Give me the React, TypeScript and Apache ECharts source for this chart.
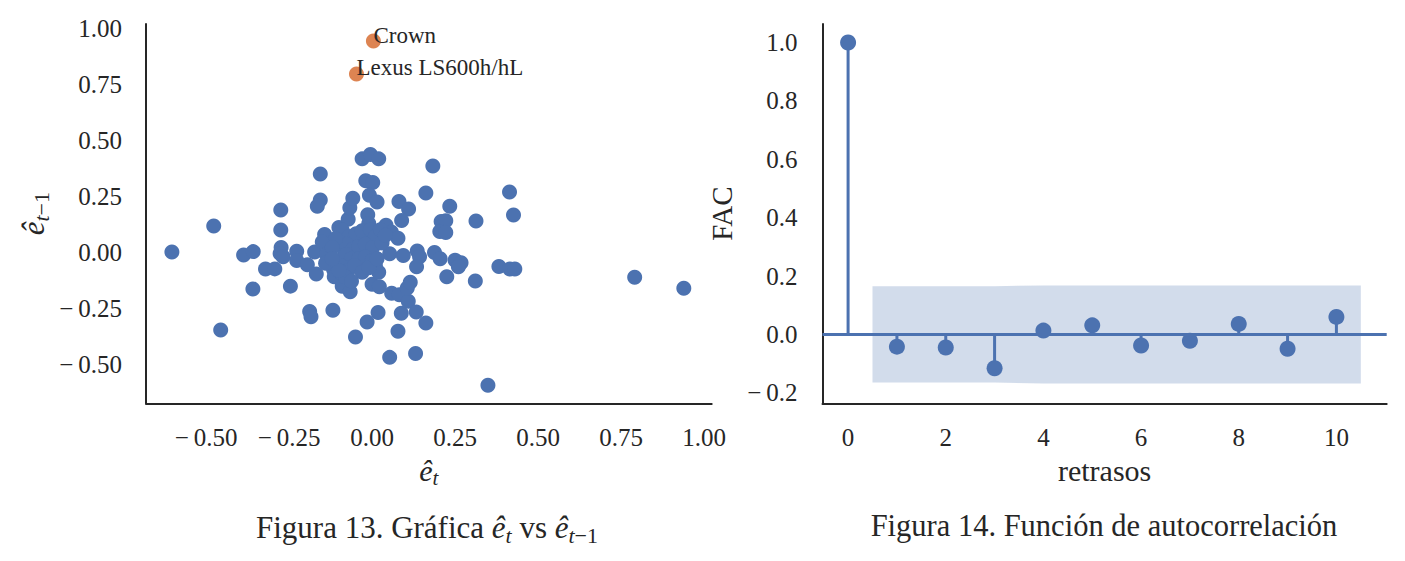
import React, { useEffect, useRef } from 'react';
import * as echarts from 'echarts';

// ---------- data ----------
// residual pairs (e_t, e_{t-1})
const residualPairs: [number, number][] = [
  [-0.603, 0.0], [-0.477, 0.116], [-0.456, -0.348], [-0.387, -0.013], [-0.358, 0.002],
  [-0.359, -0.165], [-0.321, -0.076], [-0.293, -0.075], [-0.275, 0.188], [-0.275, 0.099],
  [-0.274, 0.02], [-0.277, -0.006], [-0.268, -0.021], [-0.246, -0.152], [-0.227, 0.004],
  [-0.227, -0.038], [-0.188, -0.265], [-0.184, -0.289], [-0.195, -0.057], [-0.168, -0.098],
  [-0.173, 0.0], [-0.156, 0.348], [-0.156, 0.232], [-0.165, 0.205], [-0.143, 0.078],
  [-0.15, 0.045], [-0.137, -0.01], [-0.118, -0.26], [-0.116, -0.078], [-0.114, -0.11],
  [-0.1, 0.11], [-0.088, -0.104], [-0.09, -0.153], [-0.066, -0.177], [-0.072, 0.146],
  [-0.067, 0.198], [-0.058, 0.24], [-0.086, 0.024], [-0.083, -0.008], [-0.05, -0.379],
  [-0.058, 0.072], [-0.044, 0.008], [-0.044, -0.048], [-0.03, 0.416], [-0.005, 0.435],
  [0.02, 0.416], [-0.019, 0.318], [0.002, 0.311], [-0.008, 0.254], [0.015, 0.223],
  [-0.013, 0.167], [-0.01, 0.128], [-0.017, 0.088], [-0.03, 0.04], [-0.006, 0.024],
  [-0.006, -0.016], [-0.015, -0.312], [0.018, -0.27], [0.0, -0.144], [0.022, -0.155],
  [0.01, -0.06], [0.02, -0.09], [0.042, 0.12], [0.058, 0.09], [0.078, 0.062],
  [0.053, -0.007], [0.053, -0.47], [0.059, -0.184], [0.082, -0.19], [0.081, 0.226],
  [0.11, 0.192], [0.089, 0.141], [0.094, -0.015], [0.078, -0.353], [0.088, -0.273],
  [0.109, -0.22], [0.106, -0.16], [0.115, -0.135], [0.136, 0.005], [0.143, -0.021],
  [0.134, -0.066], [0.133, -0.268], [0.131, -0.453], [0.162, 0.264], [0.183, 0.384],
  [0.162, -0.317], [0.188, -0.002], [0.205, -0.03], [0.208, 0.136], [0.222, 0.14],
  [0.204, 0.092], [0.222, 0.087], [0.225, -0.11], [0.234, 0.204], [0.25, -0.036],
  [0.268, -0.048], [0.26, -0.066], [0.311, -0.129], [0.313, 0.139], [0.349, -0.594],
  [0.382, -0.064], [0.414, 0.268], [0.415, -0.076], [0.43, -0.076], [0.426, 0.165],
  [0.791, -0.112], [0.939, -0.162],
  [-0.09, 0.098], [-0.07, 0.068], [-0.048, 0.082], [-0.03, 0.095], [-0.005, 0.1],
  [0.01, 0.07], [0.025, 0.1], [-0.078, 0.035], [-0.06, 0.012], [-0.04, 0.025],
  [-0.02, 0.035], [0.002, 0.02], [-0.078, -0.012], [-0.062, -0.03], [-0.04, -0.03],
  [-0.02, -0.022], [0.0, -0.04], [-0.092, -0.062], [-0.072, -0.082], [-0.052, -0.06],
  [-0.03, -0.09], [-0.08, -0.112], [-0.062, -0.13], [-0.1, -0.082], [-0.11, 0.06],
  [-0.12, 0.02], [0.03, 0.04], [0.04, 0.075], [-0.01, -0.07], [0.015, -0.03],
  [-0.14, -0.05], [-0.12, -0.03],
];

const highlightNames = ['Crown', 'Lexus LS600h/hL'];
const highlightPairs: [number, number][] = [[0.004, 0.942], [-0.047, 0.795]];

const acfLags = [0, 1, 2, 3, 4, 5, 6, 7, 8, 9, 10];
const acfValues = [1.0, -0.042, -0.045, -0.116, 0.013, 0.031, -0.038, -0.022, 0.036, -0.049, 0.06];

const bandLags = [0.5, 2, 3, 4, 5, 6, 7, 8, 9, 10.5];
const bandHalfWidth = [0.165, 0.165, 0.165, 0.168, 0.168, 0.168, 0.168, 0.168, 0.168, 0.168];

const leftXTicks = [-0.5, -0.25, 0, 0.25, 0.5, 0.75, 1.0];
const leftYTicks = [-0.5, -0.25, 0, 0.25, 0.5, 0.75, 1.0];
const rightXTicks = [0, 2, 4, 6, 8, 10];
const rightYTicks = [-0.2, 0, 0.2, 0.4, 0.6, 0.8, 1.0];

// ---------- styles ----------
const FONT = '"Liberation Serif", "DejaVu Serif", serif';
const INK = '#262626';
const BLUE = '#4C72B0';
const ORANGE = '#DD8452';
const TICK_SIZE = 25;

const signed = (v: number, d: number) => (v < 0 ? '\u2212\u2009' : '') + Math.abs(v).toFixed(d);

const mathRich = (size: number) => ({
  e: { fontFamily: FONT, fontStyle: 'italic', fontSize: size, color: INK },
  s: { fontFamily: FONT, fontStyle: 'italic', fontSize: Math.round(size * 0.7), color: INK, padding: [Math.round(size * 0.5), 0, 0, 0] },
  r: { fontFamily: FONT, fontSize: Math.round(size * 0.7), color: INK, padding: [Math.round(size * 0.5), 0, 0, 0] },
});

const axisCommon = {
  type: 'value' as const,
  axisLine: { show: true, onZero: false, lineStyle: { color: INK, width: 2 } },
  axisTick: { show: false },
  splitLine: { show: false },
};

const labelStyle = { fontFamily: FONT, fontSize: TICK_SIZE, color: INK };

export default function App() {
  const ref = useRef<HTMLDivElement>(null);

  useEffect(() => {
    if (!ref.current) return;
    const chart = echarts.init(ref.current, undefined, { renderer: 'svg' });

    const option: any = {
      animation: false,
      backgroundColor: '#ffffff',
      grid: [
        { left: 146, top: 24, width: 565.7, height: 379.3 },
        { left: 822.5, top: 24, width: 564.2, height: 379.3 },
      ],
      xAxis: [
        {
          ...axisCommon,
          gridIndex: 0,
          min: -0.681,
          max: 1.023,
          axisLabel: { ...labelStyle, customValues: leftXTicks, formatter: (v: number) => signed(v, 2), margin: 22 },
          name: '{e|ê}{s|t}',
          nameLocation: 'middle',
          nameGap: 46,
          nameTextStyle: { rich: mathRich(30) },
        },
        {
          ...axisCommon,
          gridIndex: 1,
          min: -0.524,
          max: 11.03,
          axisLabel: { ...labelStyle, customValues: rightXTicks, formatter: (v: number) => String(v), margin: 22 },
          name: 'retrasos',
          nameLocation: 'middle',
          nameGap: 47,
          nameTextStyle: { fontFamily: FONT, fontSize: 30, color: INK },
        },
      ],
      yAxis: [
        {
          ...axisCommon,
          gridIndex: 0,
          min: -0.675,
          max: 1.018,
          axisLabel: { ...labelStyle, customValues: leftYTicks, formatter: (v: number) => signed(v, 2), margin: 24 },
          name: '{e|ê}{s|t}{r|\u22121}',
          nameLocation: 'middle',
          nameGap: 94,
          nameTextStyle: { rich: mathRich(31) },
        },
        {
          ...axisCommon,
          gridIndex: 1,
          min: -0.236,
          max: 1.0635,
          axisLabel: { ...labelStyle, customValues: rightYTicks, formatter: (v: number) => signed(v, 1), margin: 25 },
          name: 'FAC',
          nameLocation: 'middle',
          nameGap: 86,
          nameTextStyle: { fontFamily: FONT, fontSize: 29, color: INK },
        },
      ],
      series: [
        {
          type: 'scatter',
          xAxisIndex: 0,
          yAxisIndex: 0,
          data: residualPairs,
          symbolSize: 15,
          itemStyle: { color: BLUE, borderWidth: 0, opacity: 1 },
          silent: true,
          z: 3,
        },
        {
          type: 'scatter',
          xAxisIndex: 0,
          yAxisIndex: 0,
          data: highlightPairs.map((p, i) => ({ name: highlightNames[i], value: p })),
          symbolSize: 15,
          itemStyle: { color: ORANGE, borderWidth: 0, opacity: 1 },
          label: {
            show: true,
            formatter: '{b}',
            position: [7.5, 13],
            align: 'left',
            verticalAlign: 'bottom',
            fontFamily: FONT,
            fontSize: 23,
            color: INK,
          },
          silent: true,
          z: 4,
        },
        {
          type: 'custom',
          xAxisIndex: 1,
          yAxisIndex: 1,
          data: [[bandLags[0], 0]],
          silent: true,
          z: 1,
          renderItem: (_params: any, api: any) => {
            const upper = bandLags.map((l, i) => api.coord([l, bandHalfWidth[i]]));
            const lower = bandLags.map((l, i) => api.coord([l, -bandHalfWidth[i]])).reverse();
            return {
              type: 'polygon',
              shape: { points: [...upper, ...lower] },
              style: { fill: 'rgba(76,114,176,0.25)', stroke: 'none' },
            };
          },
        },
        {
          type: 'custom',
          xAxisIndex: 1,
          yAxisIndex: 1,
          data: acfLags.map((l, i) => [l, acfValues[i]]),
          encode: { x: 0, y: 1 },
          silent: true,
          z: 2,
          renderItem: (_params: any, api: any) => {
            const p0 = api.coord([api.value(0), 0]);
            const p1 = api.coord([api.value(0), api.value(1)]);
            return {
              type: 'line',
              shape: { x1: p0[0], y1: p0[1], x2: p1[0], y2: p1[1] },
              style: { stroke: BLUE, lineWidth: 3 },
            };
          },
        },
        {
          type: 'scatter',
          xAxisIndex: 1,
          yAxisIndex: 1,
          data: acfLags.map((l, i) => [l, acfValues[i]]),
          symbolSize: 16,
          itemStyle: { color: BLUE, opacity: 1 },
          silent: true,
          z: 4,
          markLine: {
            silent: true,
            symbol: 'none',
            label: { show: false },
            lineStyle: { color: BLUE, width: 3, type: 'solid' },
            data: [{ yAxis: 0 }],
          },
        },
      ],
      graphic: [
        {
          type: 'text',
          x: 427,
          y: 527,
          style: {
            text: 'Figura 13. Gráfica {e|ê}{s|t} vs {e|ê}{s|t}{r|\u22121}',
            rich: mathRich(31),
            fontFamily: FONT,
            fontSize: 31,
            fill: INK,
            align: 'center',
            verticalAlign: 'middle',
          },
        },
        {
          type: 'text',
          x: 1104,
          y: 526,
          style: {
            text: 'Figura 14. Función de autocorrelación',
            fontFamily: FONT,
            fontSize: 30.5,
            fill: INK,
            align: 'center',
            verticalAlign: 'middle',
          },
        },
      ],
    };

    chart.setOption(option);
    return () => chart.dispose();
  }, []);

  return (
    <div
      ref={ref}
      style={{ position: 'absolute', left: 0, top: 0, width: 1405, height: 561, background: '#ffffff' }}
    />
  );
}
